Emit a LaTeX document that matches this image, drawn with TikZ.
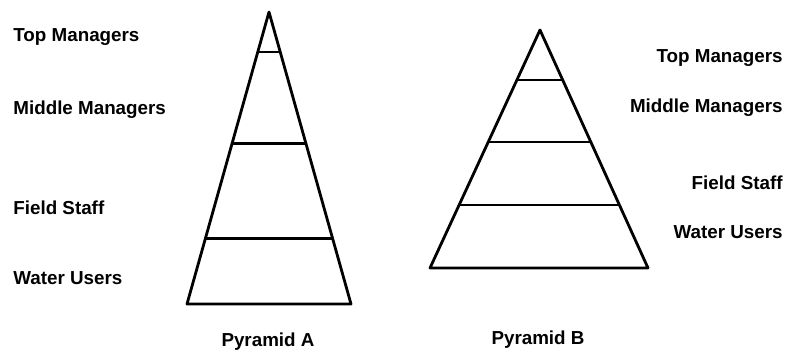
\documentclass[tikz,border=0pt]{standalone}
\usepackage{fontspec}
\setmainfont{Liberation Sans}
\usetikzlibrary{positioning, calc}

\begin{document}
\begin{tikzpicture}[
  x=0.5pt, y=-0.5pt,
  pyramid/.style={line width=1.4pt, line join=round},
  tier/.style={font=\bfseries\fontsize{9.4}{11}\selectfont, inner sep=0pt},
  caption/.style={font=\bfseries\fontsize{9.4}{11}\selectfont, inner sep=0pt}
]
\useasboundingbox (0,0) rectangle (787,353);

% Pyramid A
\coordinate (apexA) at (269,12);
\coordinate (leftA) at (187,304);
\coordinate (rightA) at (351,304);
\draw[pyramid] (apexA) -- (rightA) -- (leftA) -- cycle;
\foreach \t in {0.137, 0.449, 0.777}
  \draw[pyramid] ($(apexA)!\t!(leftA)$) -- ($(apexA)!\t!(rightA)$);

% Pyramid B
\coordinate (apexB) at (540,30);
\coordinate (leftB) at (430,268);
\coordinate (rightB) at (648,268);
\draw[pyramid] (apexB) -- (rightB) -- (leftB) -- cycle;
\foreach \t in {0.210, 0.471, 0.735}
  \draw[pyramid] ($(apexB)!\t!(leftB)$) -- ($(apexB)!\t!(rightB)$);

% Labels A
\node[tier, anchor=west] (topA) at (13,37) {Top Managers};
\node[tier, anchor=west] (midA) at (13,110) {Middle Managers};
\node[tier, anchor=west] (fieldA) at (13,208) {Field Staff};
\node[tier, anchor=west] (userA) at (13,278) {Water Users};

% Labels B
\node[tier, anchor=east] (topB) at (783,58) {Top Managers};
\node[tier, anchor=east] (midB) at (783,108) {Middle Managers};
\node[tier, anchor=east] (fieldB) at (783,183) {Field Staff};
\node[tier, anchor=east] (userB) at (783,232) {Water Users};

% Captions
\node[caption] (capA) at (268,342) {Pyramid A};
\node[caption] (capB) at (538,340) {Pyramid B};

\end{tikzpicture}
\end{document}
